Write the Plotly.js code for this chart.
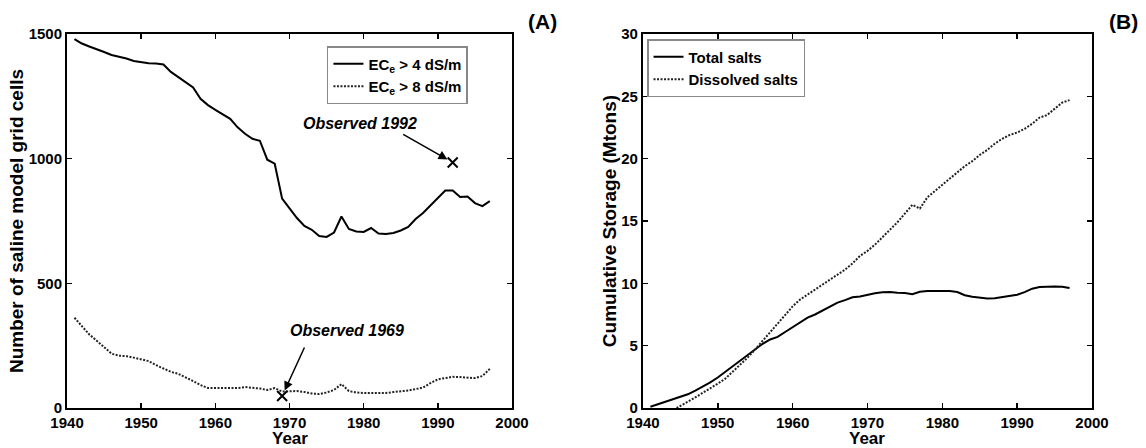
<!DOCTYPE html>
<html><head><meta charset="utf-8">
<script src="https://cdn.plot.ly/plotly-3.0.1.min.js"></script>
<style>html,body{margin:0;padding:0;background:#fff}#c{width:1146px;height:448px}</style>
</head><body><div id="c"></div>
<script>
const yearsA = [1941,1942,1943,1944,1945,1946,1947,1948,1949,1950,1951,1952,1953,1954,1955,1956,1957,1958,1959,1960,1961,1962,1963,1964,1965,1966,1967,1968,1969,1970,1971,1972,1973,1974,1975,1976,1977,1978,1979,1980,1981,1982,1983,1984,1985,1986,1987,1988,1989,1990,1991,1992,1993,1994,1995,1996,1997];
const ec4 = [1480,1462,1450,1440,1428,1416,1410,1402,1392,1386,1383,1382,1378,1348,1328,1306,1286,1240,1215,1196,1178,1160,1126,1100,1080,1072,996,980,840,800,762,730,715,690,686,704,768,718,708,706,722,700,698,702,712,726,758,782,812,842,872,872,846,848,822,810,830];
const ec8 = [362,330,295,270,245,218,210,208,202,196,188,172,157,145,137,124,108,92,80,80,79,78,80,84,82,78,72,80,66,68,68,64,58,56,62,72,96,68,62,60,60,60,60,64,66,70,76,82,100,115,120,125,124,122,120,128,157];
const obsYears = [1969, 1992];
const obsCells = [48, 985];
const obsLabels = ['Observed 1969', 'Observed 1992'];

const yearsTotal = yearsA;
const totalSalts = [0.1,0.3,0.5,0.7,0.85,1.1,1.4,1.7,2.05,2.45,2.9,3.35,3.8,4.3,4.75,5.15,5.5,5.7,6.1,6.5,6.9,7.25,7.5,7.8,8.1,8.45,8.65,8.88,8.95,9.1,9.2,9.28,9.3,9.25,9.22,9.12,9.32,9.38,9.4,9.38,9.38,9.3,9.05,8.92,8.82,8.78,8.8,8.88,8.98,9.08,9.3,9.57,9.7,9.73,9.75,9.72,9.62];
const yearsDiss = [1944.5,1945,1946,1947,1948,1949,1950,1951,1952,1953,1954,1955,1956,1957,1958,1959,1960,1961,1962,1963,1964,1965,1966,1967,1968,1969,1970,1971,1972,1973,1974,1975,1976,1977,1978,1979,1980,1981,1982,1983,1984,1985,1986,1987,1988,1989,1990,1991,1992,1993,1994,1995,1996,1997];
const dissolvedSalts = [0,0.15,0.5,0.85,1.2,1.55,1.95,2.35,2.9,3.5,4.05,4.7,5.4,6.1,6.8,7.5,8.15,8.7,9.1,9.45,9.9,10.3,10.7,11.1,11.6,12.2,12.6,13.1,13.7,14.3,14.9,15.6,16.3,16.0,16.9,17.4,17.9,18.4,18.9,19.4,19.8,20.3,20.7,21.2,21.6,21.9,22.1,22.4,22.8,23.3,23.5,24.0,24.5,24.7];

const xTicks = [1940,1950,1960,1970,1980,1990,2000];
const yTicksA = [0,500,1000,1500];
const yTicksB = [0,5,10,15,20,25,30];
const xTitle = 'Year';

const FF = 'Arial, "Liberation Sans", sans-serif';
const tickFont = {family: FF, size: 15, color: '#000', weight: 'bold'};
const titleFont = {family: FF, size: 19, color: '#000', weight: 'bold'};
const yearFont = {family: FF, size: 17, color: '#000', weight: 'bold'};
const solid = {color: '#000', width: 2};
const dotted = {color: '#222', width: 2, dash: '2px,1.5px'};

const traces = [
  {x: yearsA, y: ec4, mode: 'lines', line: solid, name: 'EC<sub>e</sub> &gt; 4 dS/m', xaxis: 'x', yaxis: 'y', legend: 'legend'},
  {x: yearsA, y: ec8, mode: 'lines', line: dotted, name: 'EC<sub>e</sub> &gt; 8 dS/m', xaxis: 'x', yaxis: 'y', legend: 'legend'},
  {x: obsYears, y: obsCells, mode: 'markers', marker: {symbol: 'x-thin-open', size: 10, line: {width: 2, color: '#000'}, color: '#000'}, showlegend: false, xaxis: 'x', yaxis: 'y'},
  {x: yearsTotal, y: totalSalts, mode: 'lines', line: solid, name: 'Total salts', xaxis: 'x2', yaxis: 'y2', legend: 'legend2'},
  {x: yearsDiss, y: dissolvedSalts, mode: 'lines', line: dotted, name: 'Dissolved salts', xaxis: 'x2', yaxis: 'y2', legend: 'legend2'}
];

function ax(extra) {
  return Object.assign({
    showline: true, linecolor: '#000', linewidth: 2, mirror: 'allticks',
    ticks: 'inside', ticklen: 5, tickwidth: 1.5, tickcolor: '#000',
    showgrid: false, zeroline: false, tickfont: tickFont
  }, extra);
}

const legFont = {family: FF, size: 15, color: '#000', weight: 'bold'};

const layout = {
  width: 1146, height: 448,
  margin: {l: 0, r: 0, t: 0, b: 0},
  paper_bgcolor: '#fff', plot_bgcolor: '#fff',
  showlegend: true,
  xaxis: ax({domain: [0.0585, 0.4468], range: [1940, 2000], tickvals: xTicks, anchor: 'y'}),
  yaxis: ax({domain: [0.0893, 0.924], range: [0, 1500], tickvals: yTicksA, anchor: 'x',
    title: {text: 'Number of saline model grid cells', font: titleFont, standoff: 0}}),
  xaxis2: ax({domain: [0.561, 0.9529], range: [1940, 2000], tickvals: xTicks, anchor: 'y2'}),
  yaxis2: ax({domain: [0.0893, 0.924], range: [0, 30], tickvals: yTicksB, anchor: 'x2',
    title: {text: 'Cumulative Storage (Mtons)', font: titleFont, standoff: 0}}),
  legend: {x: 0.2853, y: 0.8973, xanchor: 'left', yanchor: 'top', bgcolor: '#fff', itemwidth: 30,
    bordercolor: '#888', borderwidth: 1.5, font: legFont, tracegroupgap: 0},
  legend2: {x: 0.5646, y: 0.9129, xanchor: 'left', yanchor: 'top', bgcolor: '#fff', itemwidth: 30,
    bordercolor: '#888', borderwidth: 1.5, font: legFont, tracegroupgap: 0},
  annotations: [
    {text: xTitle, xref: 'x', yref: 'paper', x: 1970, y: 0.021, xanchor: 'center', yanchor: 'middle', showarrow: false, font: yearFont},
    {text: xTitle, xref: 'x2', yref: 'paper', x: 1970, y: 0.021, xanchor: 'center', yanchor: 'middle', showarrow: false, font: yearFont},
    {text: '(A)', xref: 'paper', yref: 'paper', x: 0.4738, y: 0.951, xanchor: 'center', yanchor: 'middle', showarrow: false,
      font: {family: FF, size: 21, color: '#000', weight: 'bold'}},
    {text: '(B)', xref: 'paper', yref: 'paper', x: 0.98, y: 0.951, xanchor: 'center', yanchor: 'middle', showarrow: false,
      font: {family: FF, size: 21, color: '#000', weight: 'bold'}},
    {text: '<i>' + obsLabels[1] + '</i>', xref: 'x', yref: 'y', x: 1979.5, y: 1142, showarrow: false,
      font: {family: FF, size: 16, color: '#000', weight: 'bold'}},
    {text: '<i>' + obsLabels[0] + '</i>', xref: 'x', yref: 'y', x: 1977.8, y: 310, showarrow: false,
      font: {family: FF, size: 16, color: '#000', weight: 'bold'}},
    {text: '', xref: 'x', yref: 'y', x: obsYears[1], y: obsCells[1], showarrow: true, ax: -51, ay: -29,
      arrowhead: 2, arrowsize: 1.2, arrowwidth: 1.5, arrowcolor: '#000', standoff: 6},
    {text: '', xref: 'x', yref: 'y', x: obsYears[0], y: obsCells[0], showarrow: true, ax: 23, ay: -50,
      arrowhead: 2, arrowsize: 1.2, arrowwidth: 1.5, arrowcolor: '#000', standoff: 6}
  ]
};

Plotly.newPlot('c', traces, layout, {displayModeBar: false, staticPlot: true});
</script>
</body></html>
